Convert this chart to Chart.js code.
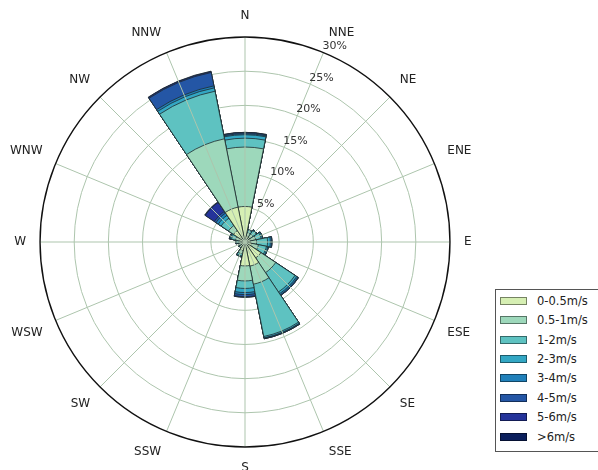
<!DOCTYPE html>
<html>
<head>
<meta charset="utf-8">
<title>Wind rose</title>
<script src="https://cdn.jsdelivr.net/npm/chart.js@4.4.1/dist/chart.umd.min.js"></script>
<style>
    html, body {
        margin: 0;
        padding: 0;
        width: 598px;
        height: 470px;
        overflow: hidden;
        background: #fff;
    }
    #wrap {
        position: absolute;
        left: 6px;
        top: 7px;
        width: 470px;
        height: 470px;
    }
    #legend {
        position: absolute;
        left: 495px;
        top: 289px;
        width: 130px;
        height: 163px;
        box-sizing: border-box;
        border: 1px solid #555;
        background: #fff;
        font: 11.5px "DejaVu Sans", sans-serif;
        color: #222;
    }
    #legend .item {
        position: absolute;
        left: 4px;
        height: 14px;
        line-height: 14px;
        white-space: nowrap;
    }
    #legend .swatch {
        position: absolute;
        left: 0;
        top: 3px;
        width: 27px;
        height: 8px;
        box-sizing: border-box;
        border: 1px solid rgba(0, 0, 0, 0.45);
    }
    #legend .text {
        position: absolute;
        left: 37px;
        top: 0;
    }
</style>
</head>
<body>
<div id="wrap"><canvas id="rose"></canvas></div>
<div id="legend"></div>

<script>
// directions, clockwise from north
const directions = ["N", "NNE", "NE", "ENE", "E", "ESE", "SE", "SSE",
                    "S", "SSW", "SW", "WSW", "W", "WNW", "NW", "NNW"];

const speedBins = ["0-0.5m/s", "0.5-1m/s", "1-2m/s", "2-3m/s",
                   "3-4m/s", "4-5m/s", "5-6m/s", ">6m/s"];

const binColors = ["#d6efb3", "#9dd8bb", "#5ec2c1", "#33a7c4",
                   "#2080ba", "#2456a5", "#24339a", "#0b1f5c"];

// frequency (%) per speed bin, in the order of directions
const speed0 = [5.2, 0.9, 0.8, 0.8, 0.8, 1.0, 2.8, 3.6, 3.5, 1.3, 0.6, 0.5, 0.5, 0.8, 2.0, 5.2];
const speed1 = [8.7, 0.5, 0.6, 0.8, 0.9, 1.0, 2.6, 2.7, 2.2, 0.5, 0.3, 0.3, 0.4, 0.6, 0.9, 10.2];
const speed2 = [1.3, 0.4, 0.6, 0.8, 1.6, 1.2, 3.4, 7.8, 1.1, 0.3, 0.1, 0.1, 0.3, 0.6, 1.3, 7.1];
const speed3 = [0.5, 0.05, 0.1, 0.2, 0.4, 0.2, 0.3, 0.2, 0.6, 0.1, 0.05, 0.05, 0.1, 0.2, 0.5, 0.5];
const speed4 = [0.15, 0.0, 0.05, 0.05, 0.2, 0.1, 0.2, 0.05, 0.3, 0.05, 0.05, 0.05, 0.05, 0.1, 0.4, 0.3];
const speed5 = [0.15, 0.0, 0.0, 0.0, 0.05, 0.0, 0.1, 0.1, 0.3, 0.0, 0.0, 0.0, 0.0, 0.05, 0.3, 2.0];
const speed6 = [0.05, 0.0, 0.0, 0.0, 0.0, 0.0, 0.0, 0.0, 0.1, 0.0, 0.0, 0.0, 0.0, 0.0, 1.6, 0.15];
const speed7 = [0.0, 0.0, 0.0, 0.0, 0.0, 0.0, 0.0, 0.0, 0.0, 0.0, 0.0, 0.0, 0.0, 0.0, 0.1, 0.05];

const tickValues = [5, 10, 15, 20, 25, 30];

const speeds = [speed0, speed1, speed2, speed3, speed4, speed5, speed6, speed7];
const rMax = tickValues[tickValues.length - 1];
const gridColor = "#adc5ad";

// polar area arcs overlap, so each bin is drawn at its running total;
// dataset 0 is painted last, which puts the slow winds on top
let running = directions.map(() => 0);
const datasets = speeds.map((values, i) => {
    running = running.map((sum, k) => sum + values[k]);
    return {
        label: speedBins[i],
        data: running.slice(),
        backgroundColor: binColors[i],
        borderColor: "#1e2b2e",
        borderWidth: 0.8
    };
});

// spokes on the compass points and the % labels along NNE
const roseGuides = {
    id: "roseGuides",
    afterDraw(chart) {
        const r = chart.scales.r;
        const ctx = chart.ctx;
        const half = Math.PI / directions.length;
        const outer = r.getDistanceFromCenterForValue(rMax);

        ctx.save();
        ctx.strokeStyle = gridColor;
        ctx.lineWidth = 1;
        directions.forEach((d, i) => {
            const p = r.getPointPosition(i, outer, half);
            ctx.beginPath();
            ctx.moveTo(r.xCenter, r.yCenter);
            ctx.lineTo(p.x, p.y);
            ctx.stroke();
        });

        ctx.beginPath();
        ctx.strokeStyle = "#111";
        ctx.lineWidth = 1.4;
        ctx.arc(r.xCenter, r.yCenter, outer, 0, Math.PI * 2);
        ctx.stroke();

        ctx.font = '11px "DejaVu Sans", sans-serif';
        ctx.fillStyle = "#333";
        ctx.textAlign = "left";
        ctx.textBaseline = "bottom";
        tickValues.forEach(v => {
            const p = r.getPointPosition(1, r.getDistanceFromCenterForValue(v), half);
            ctx.fillText(v + "%", p.x - 1, p.y - 1);
        });
        ctx.restore();
    }
};

new Chart(document.getElementById("rose"), {
    type: "polarArea",
    data: {
        labels: directions,
        datasets: datasets
    },
    options: {
        responsive: true,
        maintainAspectRatio: false,
        animation: false,
        devicePixelRatio: 1,
        plugins: {
            legend: { display: false },
            tooltip: { enabled: false }
        },
        scales: {
            r: {
                z: 1,
                min: 0,
                max: rMax,
                startAngle: -180 / directions.length,
                ticks: { display: false, stepSize: 5 },
                grid: {
                    circular: true,
                    color: ctx => ctx.tick && ctx.tick.value === rMax ? "rgba(0,0,0,0)" : gridColor,
                    lineWidth: 1
                },
                angleLines: { display: false },
                pointLabels: {
                    display: true,
                    centerPointLabels: true,
                    padding: 14,
                    color: "#222",
                    font: { family: "DejaVu Sans", size: 12 }
                }
            }
        }
    },
    plugins: [roseGuides]
});

// legend box built from the same bins and colours
const legend = document.getElementById("legend");
speedBins.forEach((label, i) => {
    const item = document.createElement("div");
    item.className = "item";
    item.style.top = (3.7 + i * 19.4) + "px";
    item.innerHTML = '<span class="swatch" style="background:' + binColors[i] + '"></span>' +
                     '<span class="text">' + label + '</span>';
    legend.appendChild(item);
});
</script>
</body>
</html>
